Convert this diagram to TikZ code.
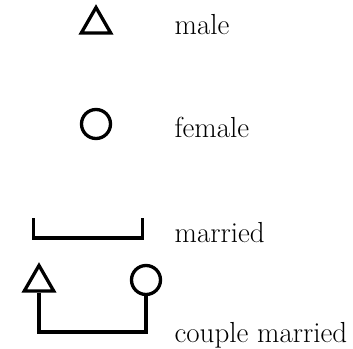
\documentclass[tikz,border=0pt]{standalone}
\usetikzlibrary{shapes.geometric}

\tikzset{
  male/.style={draw, regular polygon, regular polygon sides=3, minimum size=34pt, inner sep=0pt},
  female/.style={draw, circle, minimum size=29pt, inner sep=0pt},
  lbl/.style={anchor=base west, inner sep=0pt, font=\fontsize{29}{33}\selectfont}
}

\begin{document}
\begin{tikzpicture}[x=1pt, y=-1pt, line width=3.3pt]
\useasboundingbox (0,0) rectangle (353,348);
% key
\node[male] (m) at (96,24.5) {};
\node[lbl] (mtext) at (173,34) {male};
\node[female] (f) at (96,124) {};
\node[lbl] (ftext) at (173,137) {female};
% married bracket
\coordinate (bl) at (33.5,218);
\coordinate (br) at (142.5,218);
\draw (bl) |- (br |- 0,238) -- (br);
\node[lbl] (mdtext) at (173,242) {married};
% couple
\node[male] (h) at (39,282.5) {};
\node[female] (w) at (146,280) {};
\draw (h.south) -- (h.south |- 0,332) -| (w.south);
\node[lbl] (ctext) at (173,342) {couple married};
\end{tikzpicture}
\end{document}
